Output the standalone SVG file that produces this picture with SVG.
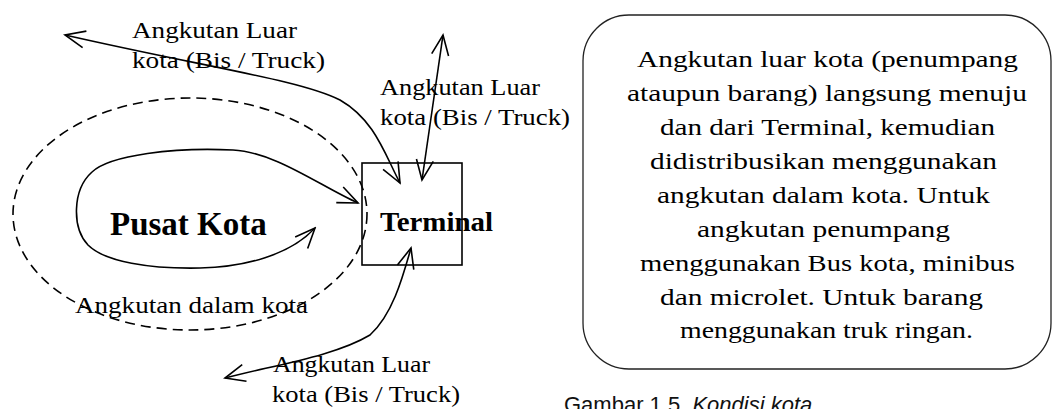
<svg xmlns="http://www.w3.org/2000/svg" width="1052" height="409" viewBox="0 0 1052 409">
  <style>
    .lbl { font-family: "Liberation Serif", "Times New Roman", serif; font-size: 24px; fill: #000; }
    .body { font-family: "Liberation Serif", "Times New Roman", serif; font-size: 23px; fill: #000; }
    .big { font-family: "Liberation Serif", "Times New Roman", serif; font-weight: bold; fill: #000; }
    .cap { font-family: "Liberation Sans", Arial, sans-serif; font-size: 22px; fill: #111; }
    .conn { fill: none; stroke: #000; stroke-width: 1.6; marker-start: url(#arr); marker-end: url(#arr); }
  </style>
  <defs>
    <marker id="arr" viewBox="-22 -11 24 22" refX="0" refY="0" markerWidth="24" markerHeight="22" markerUnits="userSpaceOnUse" orient="auto-start-reverse">
      <path d="M -20,-8.5 L 0,0 L -20,8.5" fill="none" stroke="#000" stroke-width="1.6" stroke-linejoin="miter"/>
    </marker>
  </defs>
  <rect x="0" y="0" width="1052" height="409" fill="#fff"/>

  <g id="node-dalam-kota-area">
    <ellipse cx="190" cy="214" rx="177" ry="116" fill="none" stroke="#000" stroke-width="1.6" stroke-dasharray="10 6"/>
  </g>

  <g id="node-pusat-kota">
    <text class="big" x="110" y="235" font-size="33">Pusat Kota</text>
  </g>

  <g id="node-terminal">
    <rect x="362" y="163" width="100" height="102" fill="none" stroke="#000" stroke-width="1.6"/>
    <text class="big" x="380" y="231" font-size="27" textLength="113" lengthAdjust="spacingAndGlyphs">Terminal</text>
  </g>

  <g id="connectors">
    <path id="c-loop" class="conn" d="M 358,203 C 320,186 275,152 233,150 C 175,147 110,155 92,172 C 72,190 72,228 88,245 C 105,262 150,269 200,268 C 245,267 290,255 315,228"/>
    <path id="c-topleft" class="conn" d="M 400,183 C 385,155 375,120 340,100 C 300,80 210,68 65,35"/>
    <path id="c-top" class="conn" d="M 422,180 L 443,35"/>
    <path id="c-bottom" class="conn" d="M 411,248 C 402,280 392,315 370,335 C 335,356 275,365 225,378"/>
  </g>

  <g id="labels">
    <text class="lbl" x="132" y="38" textLength="165" lengthAdjust="spacingAndGlyphs">Angkutan Luar</text>
    <text class="lbl" x="132" y="68" textLength="193" lengthAdjust="spacingAndGlyphs">kota (Bis / Truck)</text>
    <text class="lbl" x="380" y="95" textLength="160" lengthAdjust="spacingAndGlyphs">Angkutan Luar</text>
    <text class="lbl" x="380" y="125" textLength="190" lengthAdjust="spacingAndGlyphs">kota (Bis / Truck)</text>
    <text class="lbl" x="273" y="372" textLength="157" lengthAdjust="spacingAndGlyphs">Angkutan Luar</text>
    <text class="lbl" x="272" y="402" textLength="188" lengthAdjust="spacingAndGlyphs">kota (Bis / Truck)</text>
    <text class="lbl" x="75" y="313" textLength="233" lengthAdjust="spacingAndGlyphs">Angkutan dalam kota</text>
  </g>

  <g id="node-info-box">
    <rect x="583" y="15" width="468" height="354" rx="46" ry="46" fill="none" stroke="#222" stroke-width="1.3"/>
    <text class="body" x="637" y="67" textLength="381" lengthAdjust="spacingAndGlyphs">Angkutan luar kota (penumpang</text>
    <text class="body" x="627" y="101" textLength="400" lengthAdjust="spacingAndGlyphs">ataupun barang) langsung menuju</text>
    <text class="body" x="660" y="135" textLength="335" lengthAdjust="spacingAndGlyphs">dan dari Terminal, kemudian</text>
    <text class="body" x="650" y="169" textLength="347" lengthAdjust="spacingAndGlyphs">didistribusikan menggunakan</text>
    <text class="body" x="657" y="203" textLength="333" lengthAdjust="spacingAndGlyphs">angkutan dalam kota. Untuk</text>
    <text class="body" x="697" y="237" textLength="253" lengthAdjust="spacingAndGlyphs">angkutan penumpang</text>
    <text class="body" x="640" y="271" textLength="375" lengthAdjust="spacingAndGlyphs">menggunakan Bus kota, minibus</text>
    <text class="body" x="660" y="305" textLength="323" lengthAdjust="spacingAndGlyphs">dan microlet. Untuk barang</text>
    <text class="body" x="680" y="338" textLength="293" lengthAdjust="spacingAndGlyphs">menggunakan truk ringan.</text>
  </g>

  <g id="caption">
    <text class="cap" x="564" y="412">Gambar 1.5. <tspan font-style="italic">Kondisi kota</tspan></text>
  </g>
</svg>
